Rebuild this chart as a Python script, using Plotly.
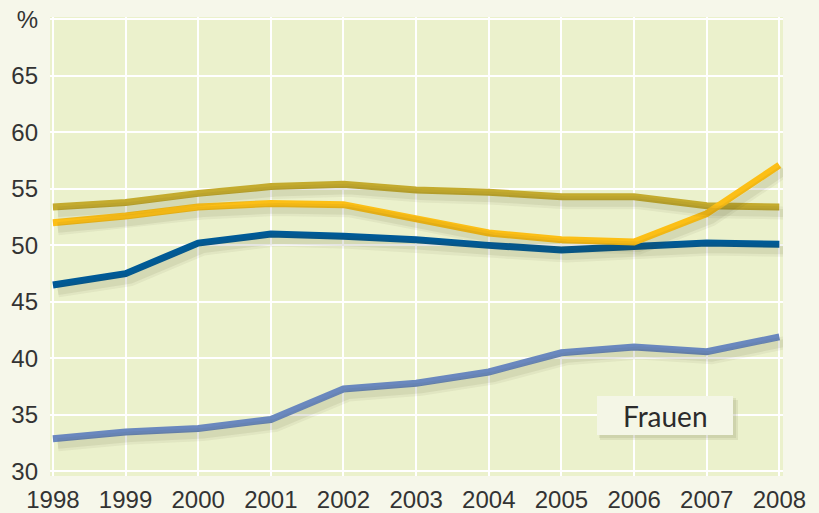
import plotly.graph_objects as go

years = [1998, 1999, 2000, 2001, 2002, 2003, 2004, 2005, 2006, 2007, 2008]
olive = [53.4, 53.8, 54.6, 55.2, 55.4, 54.9, 54.7, 54.3, 54.3, 53.5, 53.4]
yellow = [52.0, 52.6, 53.4, 53.7, 53.6, 52.4, 51.1, 50.5, 50.3, 52.8, 57.1]
darkblue = [46.5, 47.5, 50.2, 51.0, 50.8, 50.5, 50.0, 49.6, 49.9, 50.2, 50.1]
lightblue = [32.9, 33.5, 33.8, 34.6, 37.3, 37.8, 38.8, 40.5, 41.0, 40.6, 41.9]
ytick_vals = [30, 35, 40, 45, 50, 55, 60, 65, 70]
ytick_text = ["30", "35", "40", "45", "50", "55", "60", "65", "%"]
label = "Frauen"

series = [
    (lightblue, "#6a88be"),
    (darkblue, "#005a96"),
    (olive, "#c4ab2e"),
    (yellow, "#fcbf16"),
]

W, H = 819, 513
L, R, T, B = 50, 36, 17, 37
xr = [1997.96, 2008.05]
yr = [29.6, 70.2]
px_x = (W - L - R) / (xr[1] - xr[0])
px_y = (H - T - B) / (yr[1] - yr[0])
dx, dy = 5 / px_x, 6 / px_y

fig = go.Figure()
# soft shadows
for vals, col in series:
    fig.add_trace(go.Scatter(x=years, y=vals, mode="lines", xaxis="x2", yaxis="y2",
                             line=dict(color="rgba(70,70,30,0.06)", width=13),
                             hoverinfo="skip", showlegend=False))
    fig.add_trace(go.Scatter(x=years, y=vals, mode="lines", xaxis="x2", yaxis="y2",
                             line=dict(color="rgba(70,70,30,0.08)", width=8),
                             hoverinfo="skip", showlegend=False))
for vals, col in series:
    fig.add_trace(go.Scatter(x=years, y=vals, mode="lines",
                             line=dict(color=col, width=7), showlegend=False))

pw = W - L - R
ph = H - T - B
def px(x):
    return (x - L) / pw
def py(y):
    return (H - B - y) / ph

fig.update_layout(
    width=W, height=H,
    margin=dict(l=L, r=R, t=T, b=B, autoexpand=False),
    paper_bgcolor="#f6f7ea",
    plot_bgcolor="#ebf1cc",
    font=dict(family="Liberation Sans, Arial", size=24, color="#333333"),
    xaxis=dict(range=xr, tickvals=years, showgrid=True, gridcolor="#ffffff", gridwidth=2,
               zeroline=False, showline=False, ticks="", ticklabelstandoff=7, automargin=False),
    yaxis=dict(range=yr, tickvals=ytick_vals, ticktext=ytick_text, showgrid=True,
               gridcolor="#ffffff", gridwidth=2, zeroline=False, showline=False,
               ticks="", ticklabelstandoff=11, automargin=False),
    xaxis2=dict(range=[xr[0] - dx, xr[1] - dx], overlaying="x", visible=False),
    yaxis2=dict(range=[yr[0] + dy, yr[1] + dy], overlaying="y", visible=False),
    shapes=[
        dict(type="rect", xref="paper", yref="paper", x0=px(600), x1=px(738), y0=py(440), y1=py(400),
             fillcolor="rgba(90,90,40,0.10)", line=dict(width=0), layer="above"),
        dict(type="rect", xref="paper", yref="paper", x0=px(599), x1=px(736), y0=py(438), y1=py(398),
             fillcolor="rgba(90,90,40,0.10)", line=dict(width=0), layer="above"),
        dict(type="rect", xref="paper", yref="paper", x0=px(597), x1=px(733), y0=py(435), y1=py(396),
             fillcolor="#f4f6e6", line=dict(width=0), layer="above"),
    ],
    annotations=[
        dict(text=label, xref="paper", yref="paper", x=px(665), y=py(416), showarrow=False,
             font=dict(family="Lato, Open Sans", size=28, color="#2b2b2b"),
             xanchor="center", yanchor="middle"),
    ],
)

fig.write_html(
    "out.html",
    config={"displayModeBar": False},
    post_script="document.body.style.margin='0';document.body.style.background='#f6f7ea';",
)
